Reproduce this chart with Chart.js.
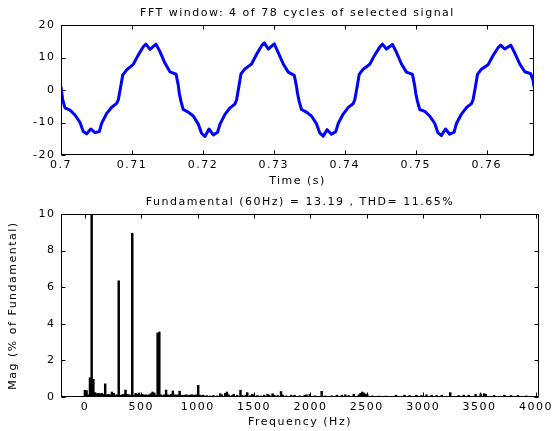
<!DOCTYPE html>
<html>
<head>
<meta charset="utf-8">
<script src="https://cdn.jsdelivr.net/npm/chart.js@4"></script>
<style>
  html, body { margin: 0; padding: 0; background: #fff; }
  #wrap { position: relative; width: 557px; height: 431px; }
  canvas { position: absolute; left: 0; }
</style>
</head>
<body>
<div id="wrap">
  <canvas id="timeChart" width="557" height="195" style="top:0"></canvas>
  <canvas id="fftChart" width="557" height="236" style="top:195px"></canvas>
</div>
<script>
// signal (time in s, value)
const sigTime = [
  0.7, 0.70024, 0.70056, 0.70127, 0.70197, 0.70268, 0.70314, 0.70362, 0.70419, 0.70479,
  0.7054, 0.70574, 0.70644, 0.70715, 0.70785, 0.70808, 0.70841, 0.7087, 0.70926, 0.71019,
  0.7109, 0.7116, 0.71198, 0.71254, 0.71339, 0.71395, 0.71466, 0.71536, 0.71621, 0.71653,
  0.71667, 0.71691, 0.71723, 0.71794, 0.71864, 0.71935, 0.71981, 0.72029, 0.72086, 0.72146,
  0.72207, 0.72241, 0.72311, 0.72382, 0.72452, 0.72475, 0.72508, 0.72537, 0.72593, 0.72686,
  0.72757, 0.72827, 0.72865, 0.72921, 0.73006, 0.73062, 0.73133, 0.73203, 0.73288, 0.7332,
  0.73333, 0.73357, 0.73389, 0.7346, 0.7353, 0.73601, 0.73647, 0.73695, 0.73752, 0.73812,
  0.73873, 0.73907, 0.73977, 0.74048, 0.74118, 0.74141, 0.74174, 0.74203, 0.74259, 0.74352,
  0.74423, 0.74493, 0.74531, 0.74587, 0.74672, 0.74728, 0.74799, 0.74869, 0.74954, 0.74986,
  0.75, 0.75024, 0.75056, 0.75127, 0.75197, 0.75268, 0.75314, 0.75362, 0.75419, 0.75479,
  0.7554, 0.75574, 0.75644, 0.75715, 0.75785, 0.75808, 0.75841, 0.7587, 0.75926, 0.76019,
  0.7609, 0.7616, 0.76198, 0.76254, 0.76339, 0.76395, 0.76466, 0.76536, 0.76621, 0.76653, 0.76667
];
const sigValue = [
  1, -3, -5.5, -6.2, -7.7, -10, -12.8, -13.5, -12, -13.1,
  -12.8, -10.2, -7.2, -5.3, -4.1, -3, 1, 4.6, 6.2, 7.9,
  10.8, 13.3, 14.1, 12.5, 14.1, 11.8, 8.2, 5.6, 4.9, 1.5,
  -1, -3.5, -6, -6.8, -8, -10.5, -13.3, -14.3, -12, -13.8,
  -13, -10.5, -7.5, -5.5, -4.3, -3, 1.2, 5, 6.5, 8,
  11, 13.6, 14.5, 12.6, 14.2, 11.5, 8, 5.5, 4.5, 1,
  -1, -3.5, -6, -6.8, -8, -10.4, -13.2, -14.2, -12.2, -13.6,
  -12.8, -10.3, -7.4, -5.4, -4.2, -3, 1, 4.8, 6.4, 7.9,
  10.8, 13.2, 14.1, 12.6, 14, 11.6, 8, 5.5, 4.8, 1.2,
  -1, -3.5, -6, -6.6, -8, -10.3, -13.2, -14, -12, -13.6,
  -13, -10.3, -7.4, -5.4, -4.2, -3, 1, 4.8, 6.4, 7.8,
  10.6, 13, 13.8, 12.6, 13.8, 11.4, 8, 5.6, 5, 3, 1
];

// spectrum (Hz, % of fundamental)
const fftFreq = [
  0, 15, 30, 45, 60, 75, 90, 105, 120, 135, 150, 165, 180, 195, 210, 225, 240, 255, 270, 285,
  300, 315, 330, 345, 360, 375, 390, 405, 420, 435, 450, 465, 480, 495, 510, 525, 540, 555, 570, 585,
  600, 615, 630, 645, 660, 675, 690, 705, 720, 735, 750, 765, 780, 795, 810, 825, 840, 855, 870, 885,
  900, 915, 930, 945, 960, 975, 990, 1005, 1020, 1035, 1050, 1080, 1110, 1140, 1170, 1200, 1215, 1245, 1260, 1275,
  1305, 1320, 1350, 1380, 1395, 1425, 1440, 1470, 1485, 1500, 1530, 1560, 1590, 1620, 1635, 1665, 1680, 1710, 1740, 1755,
  1785, 1830, 1860, 1905, 1950, 1965, 1995, 2040, 2100, 2130, 2190, 2235, 2280, 2310, 2340, 2385, 2430, 2445, 2460, 2475,
  2490, 2505, 2550, 2610, 2670, 2760, 2835, 2880, 2940, 2985, 3030, 3075, 3120, 3165, 3240, 3315, 3360, 3405, 3465, 3510,
  3540, 3555, 3630, 3720, 3780, 3840, 3915
];
const fftMag = [
  0.37, 0.35, 0.12, 1.05, 100, 0.97, 0.24, 0.18, 0.2, 0.18, 0.2, 0.15, 0.72, 0.12, 0.15, 0.12, 0.27, 0.2, 0.1, 0.12,
  6.35, 0.1, 0.12, 0.15, 0.38, 0.15, 0.12, 0.1, 8.95, 0.1, 0.2, 0.15, 0.22, 0.12, 0.15, 0.1, 0.12, 0.1, 0.12, 0.18,
  0.27, 0.22, 0.1, 3.5, 3.55, 0.12, 0.08, 0.12, 0.38, 0.12, 0.1, 0.15, 0.33, 0.12, 0.1, 0.12, 0.32, 0.1, 0.08, 0.1,
  0.12, 0.08, 0.1, 0.12, 0.1, 0.1, 0.12, 0.64, 0.1, 0.08, 0.1, 0.08, 0.06, 0.08, 0.06, 0.18, 0.12, 0.2, 0.27, 0.12,
  0.08, 0.15, 0.1, 0.37, 0.08, 0.1, 0.24, 0.08, 0.15, 0.1, 0.08, 0.06, 0.1, 0.15, 0.1, 0.18, 0.1, 0.08, 0.3, 0.1,
  0.06, 0.1, 0.1, 0.06, 0.1, 0.12, 0.15, 0.06, 0.31, 0.06, 0.06, 0.1, 0.1, 0.12, 0.08, 0.15, 0.12, 0.2, 0.27, 0.22,
  0.15, 0.12, 0.06, 0.05, 0.05, 0.1, 0.1, 0.08, 0.1, 0.08, 0.12, 0.1, 0.08, 0.1, 0.24, 0.08, 0.1, 0.1, 0.15, 0.17,
  0.18, 0.15, 0.08, 0.1, 0.08, 0.08, 0.06
];

// tick labels
const timeTicks = [0.7, 0.71, 0.72, 0.73, 0.74, 0.75, 0.76];
const ampTicks = [-20, -10, 0, 10, 20];
const freqTicks = [0, 500, 1000, 1500, 2000, 2500, 3000, 3500, 4000];
const magTicks = [0, 2, 4, 6, 8, 10];

Chart.defaults.font.family = "'DejaVu Sans', sans-serif";
Chart.defaults.font.size = 11;
Chart.defaults.color = '#000';

const font = { family: "'DejaVu Sans', sans-serif", size: 11, weight: 'normal' };

// wide, loose lettering like the old figure font
const spacing = {
  id: 'spacing',
  beforeUpdate(chart) { chart.ctx.letterSpacing = '1.5px'; },
  beforeDraw(chart) { chart.ctx.letterSpacing = '1.5px'; }
};

// closed box with inward ticks on all four sides
const boxTicks = {
  id: 'boxTicks',
  afterDatasetsDraw(chart) {
    const { ctx, chartArea: a, scales: { x, y } } = chart;
    const L = Math.round(a.left) + 0.5, R = Math.round(a.right) - 0.5;
    const T = Math.round(a.top) + 0.5, B = Math.round(a.bottom) - 0.5;
    ctx.save();
    ctx.strokeStyle = '#000';
    ctx.lineWidth = 1;
    ctx.beginPath();
    x.ticks.forEach(t => {
      const px = Math.round(x.getPixelForValue(t.value)) + 0.5;
      ctx.moveTo(px, B); ctx.lineTo(px, B - 4);
      ctx.moveTo(px, T); ctx.lineTo(px, T + 4);
    });
    y.ticks.forEach(t => {
      const py = Math.round(y.getPixelForValue(t.value)) + 0.5;
      ctx.moveTo(L, py); ctx.lineTo(L + 4, py);
      ctx.moveTo(R, py); ctx.lineTo(R - 4, py);
    });
    ctx.stroke();
    ctx.strokeRect(L, T, R - L, B - T);
    ctx.restore();
  }
};

const noGrid = { display: false, drawTicks: false };
const asText = v => String(v);

new Chart(document.getElementById('timeChart'), {
  type: 'line',
  data: {
    datasets: [{
      data: sigTime.map((t, i) => ({ x: t, y: sigValue[i] })),
      borderColor: '#0000ff',
      borderWidth: 3,
      borderJoinStyle: 'round',
      pointRadius: 0,
      tension: 0
    }]
  },
  options: {
    responsive: false,
    animation: false,
    layout: { padding: { left: 0, right: 23, top: 0, bottom: 0 } },
    plugins: {
      legend: { display: false },
      tooltip: { enabled: false },
      title: {
        display: true,
        fullSize: false,
        text: 'FFT window: 4 of 78 cycles of selected signal',
        color: '#000',
        font: font,
        padding: { top: 6.4, bottom: 5.4 }
      }
    },
    scales: {
      x: {
        type: 'linear',
        bounds: 'data',
        min: 0.7,
        max: 0.766667,
        afterBuildTicks: s => { s.ticks = timeTicks.map(v => ({ value: v })); },
        afterFit: s => { s.height = 40; },
        grid: noGrid,
        border: { display: false },
        ticks: { font: font, padding: 4, maxRotation: 0, autoSkip: false, callback: asText },
        title: { display: true, text: 'Time (s)', font: font, padding: { top: 0, bottom: 7.4 } }
      },
      y: {
        bounds: 'data',
        min: -20,
        max: 20,
        afterBuildTicks: s => { s.ticks = ampTicks.map(v => ({ value: v })); },
        afterFit: s => { s.width = 61; },
        grid: noGrid,
        border: { display: false },
        ticks: { font: font, padding: 5.5, callback: asText }
      }
    }
  },
  plugins: [spacing, boxTicks]
});

new Chart(document.getElementById('fftChart'), {
  type: 'bar',
  data: {
    datasets: [{
      data: fftFreq.map((f, i) => ({ x: f, y: fftMag[i] })),
      backgroundColor: '#000',
      barThickness: 1.8,
      grouped: false,
      clip: 0
    }]
  },
  options: {
    responsive: false,
    animation: false,
    layout: { padding: { left: 0, right: 16.5, top: 0, bottom: 0 } },
    plugins: {
      legend: { display: false },
      tooltip: { enabled: false },
      title: {
        display: true,
        fullSize: false,
        text: 'Fundamental (60Hz) = 13.19 , THD= 11.65%',
        color: '#000',
        font: font,
        padding: { top: 0.5, bottom: 5.3 }
      }
    },
    scales: {
      x: {
        type: 'linear',
        bounds: 'data',
        min: -212,
        max: 4027,
        offset: false,
        afterBuildTicks: s => { s.ticks = freqTicks.map(v => ({ value: v })); },
        afterFit: s => { s.height = 34; },
        grid: noGrid,
        border: { display: false },
        ticks: { font: font, padding: 4, maxRotation: 0, autoSkip: false, callback: asText },
        title: { display: true, text: 'Frequency (Hz)', font: font, padding: { top: 0, bottom: 2.7 } }
      },
      y: {
        bounds: 'data',
        min: 0,
        max: 10,
        afterBuildTicks: s => { s.ticks = magTicks.map(v => ({ value: v })); },
        afterFit: s => { s.width = 61; },
        grid: noGrid,
        border: { display: false },
        ticks: { font: font, padding: 5.5, callback: asText },
        title: { display: true, text: 'Mag (% of Fundamental)', font: font, padding: { top: 6.4, bottom: 0 } }
      }
    }
  },
  plugins: [spacing, boxTicks]
});
</script>
</body>
</html>
